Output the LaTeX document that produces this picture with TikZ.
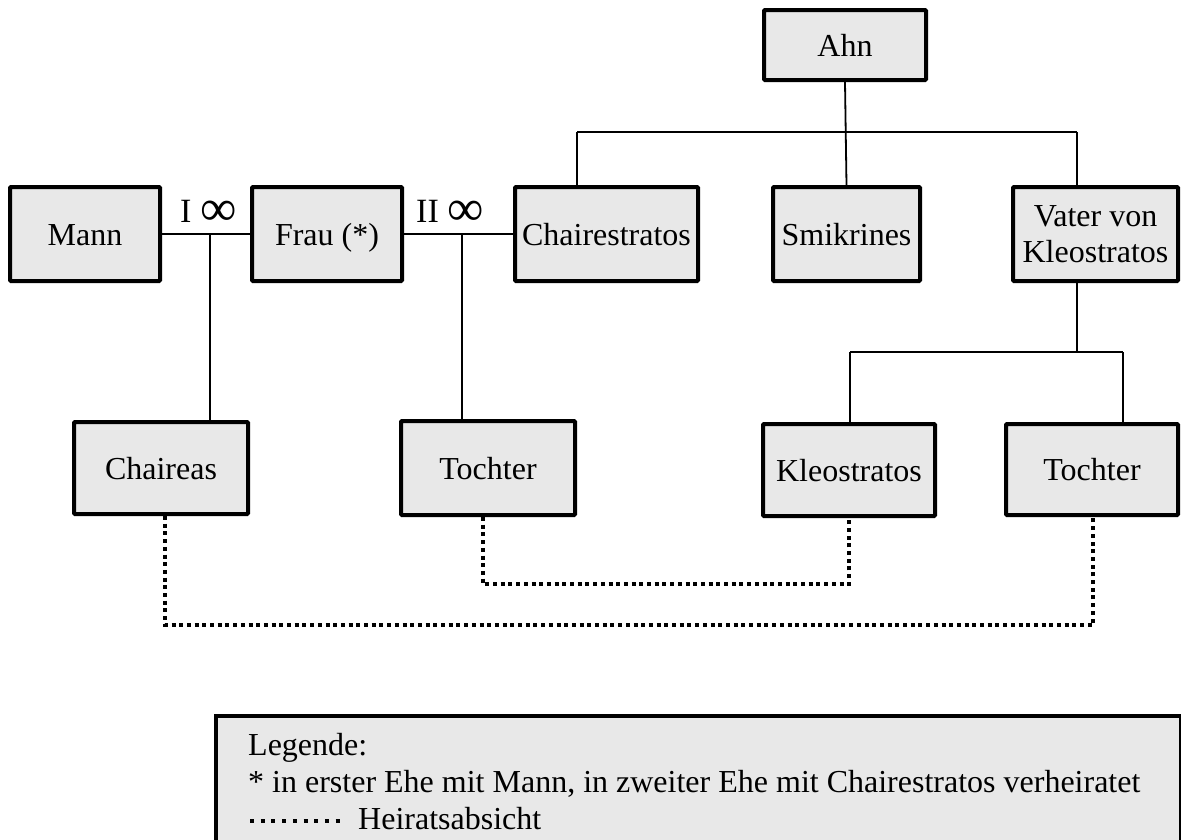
\documentclass[tikz,border=0pt]{standalone}
\usepackage{graphicx}
\usepackage{fontspec}
\setmainfont{Liberation Serif}
\newcommand{\bigInf}{\raisebox{-3pt}{\scalebox{1.5}{∞}}}
\begin{document}
\begin{tikzpicture}[x=1pt,y=-1pt,
  boxbase/.style={draw=black, line width=4pt, fill=boxgray, rounded corners=1pt,
    inner sep=0pt, align=center, font=\fontsize{32}{36}\selectfont},
  box/.style={boxbase, text height=24pt, text depth=2pt},
  link/.style={draw=black, line width=1.8pt},
  intent/.style={draw=black, line width=4.5pt, dash pattern=on 4pt off 3.7pt},
  lbl/.style={font=\fontsize{34}{36}\selectfont, inner sep=0pt, anchor=base west},
  legtext/.style={font=\fontsize{32}{36}\selectfont, inner sep=0pt, anchor=base west}]
\definecolor{boxgray}{RGB}{232,232,232}
\useasboundingbox (0,0) rectangle (1181,839);
\begin{scope}
\clip (0,0) rectangle (1181,839);
% legend box
\node[draw=black, line width=4pt, fill=boxgray, minimum width=965pt, minimum height=150pt, anchor=north west, inner sep=0pt] (legend) at (214,714) {};
\end{scope}
\node[legtext] (leg1) at (248,755) {Legende:};
\node[legtext] (leg2) at (248,792) {* in erster Ehe mit Mann, in zweiter Ehe mit Chairestratos verheiratet};
\coordinate (ds1) at (250,821);
\coordinate (ds2) at (342,821);
\draw[draw=black, line width=4.5pt, dash pattern=on 4pt off 6.7pt] (ds1) -- (ds2);
\node[legtext] (leg3) at (358,829) {Heiratsabsicht};

% nodes
\node[box, minimum width=162pt, minimum height=70pt] (ahn) at (845,45) {Ahn};
\node[box, minimum width=150pt, minimum height=94pt] (mann) at (85,234) {Mann};
\node[box, minimum width=150pt, minimum height=94pt] (frau) at (327,234) {Frau (*)};
\node[box, minimum width=183pt, minimum height=94pt] (chair) at (606.5,234) {Chairestratos};
\node[box, minimum width=147pt, minimum height=94pt] (smik) at (846.5,234) {Smikrines};
\node[boxbase, minimum width=165pt, minimum height=94pt] (vater) at (1095.5,234) {Vater von\\Kleostratos};
\node[box, minimum width=174pt, minimum height=92pt] (chaireas) at (161,468) {Chaireas};
\node[box, minimum width=174pt, minimum height=94pt] (tochter1) at (488,468) {Tochter};
\node[box, minimum width=172pt, minimum height=92pt] (kleo) at (849,470) {Kleostratos};
\node[box, minimum width=172pt, minimum height=91pt] (tochter2) at (1092,469.5) {Tochter};

% marriage labels
\node[lbl] (m1lbl) at (180,222) {I \bigInf};
\node[lbl] (m2lbl) at (416,222) {II \bigInf};

% descent from Ahn
\coordinate (barL) at (577,132);
\coordinate (barR) at (1077,132);
\draw[link] (ahn.south) -- (smik.north);
\draw[link] (barL) -- (barR);
\draw[link] (barL) -- (barL |- chair.north);
\draw[link] (barR) -- (barR |- vater.north);

% descent from Vater
\coordinate (vtop) at (1077,352);
\coordinate (kbarL) at (850,352);
\coordinate (kbarR) at (1123,352);
\draw[link] (vtop |- vater.south) -- (vtop);
\draw[link] (kbarL) -- (kbarR);
\draw[link] (kbarL) -- (kbarL |- kleo.north);
\draw[link] (kbarR) -- (kbarR |- tochter2.north);

% marriages
\coordinate (mj1) at (210,234);
\coordinate (mj2) at (462,234);
\draw[link] (mann.east) -- (frau.west);
\draw[link] (frau.east) -- (chair.west);
\draw[link] (mj1) -- (mj1 |- chaireas.north);
\draw[link] (mj2) -- (mj2 |- tochter1.north);

% intended marriages
\coordinate (i1a) at (483,584);
\coordinate (i1b) at (849,584);
\draw[intent] (i1a |- tochter1.south) -- (i1a) -- (i1b) -- (i1b |- kleo.south);
\coordinate (i2a) at (165,625);
\coordinate (i2b) at (1093,625);
\draw[intent] (i2a |- chaireas.south) -- (i2a) -- (i2b) -- (i2b |- tochter2.south);
\end{tikzpicture}
\end{document}
